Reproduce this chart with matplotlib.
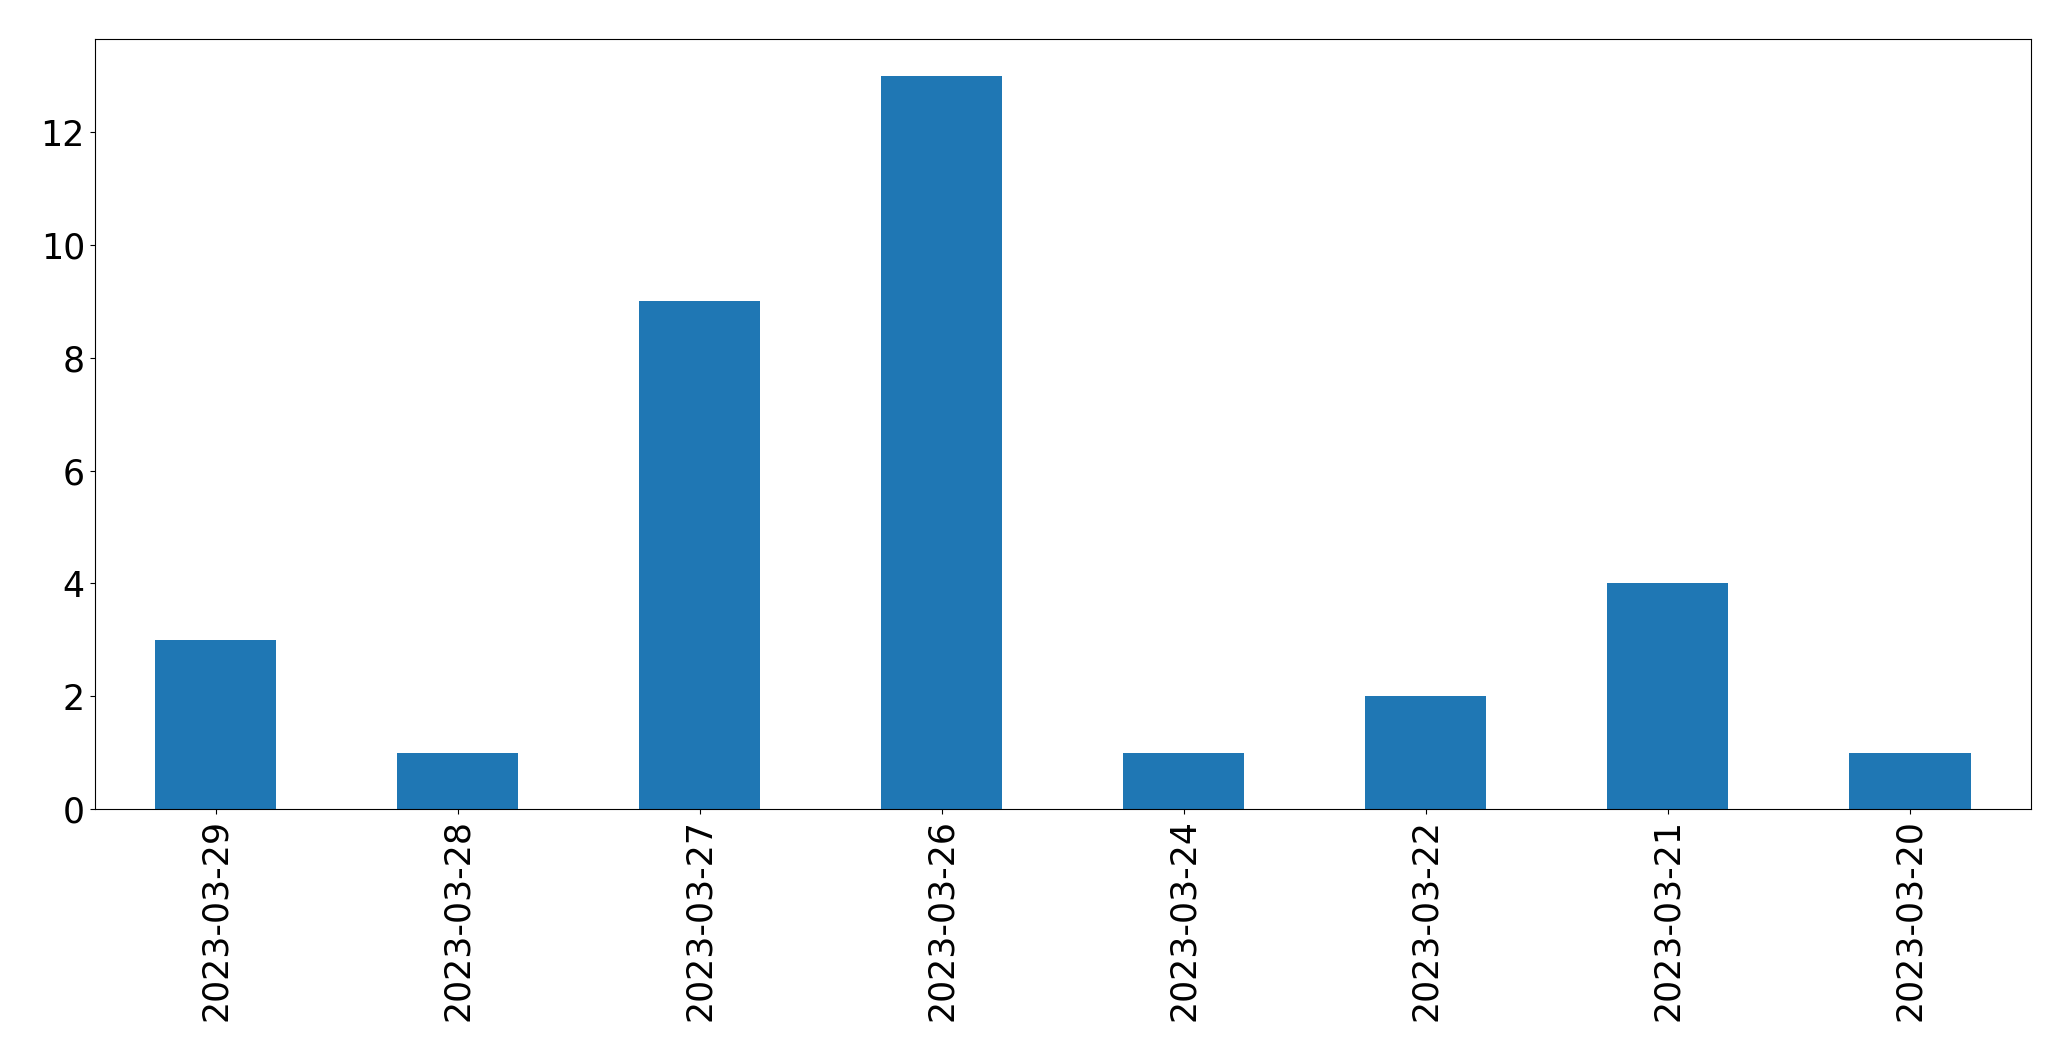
import matplotlib
matplotlib.use("Agg")
import matplotlib.pyplot as plt

dates = ["2023-03-29", "2023-03-28", "2023-03-27", "2023-03-26",
         "2023-03-24", "2023-03-22", "2023-03-21", "2023-03-20"]
counts = [3, 1, 9, 13, 1, 2, 4, 1]

fig = plt.figure(figsize=(20.71, 10.61), dpi=100)
ax = fig.add_axes([0.0457, 0.2375, 0.935, 0.7255])
x = list(range(len(dates)))
ax.bar(x, counts, width=0.5, color="#1f77b4")
ax.set_xlim(-0.5, len(dates) - 0.5)
ax.set_xticks(x)
ax.set_xticklabels(dates, rotation=90)
ax.tick_params(axis="both", labelsize=25)
fig.savefig("out.png", dpi=100)
